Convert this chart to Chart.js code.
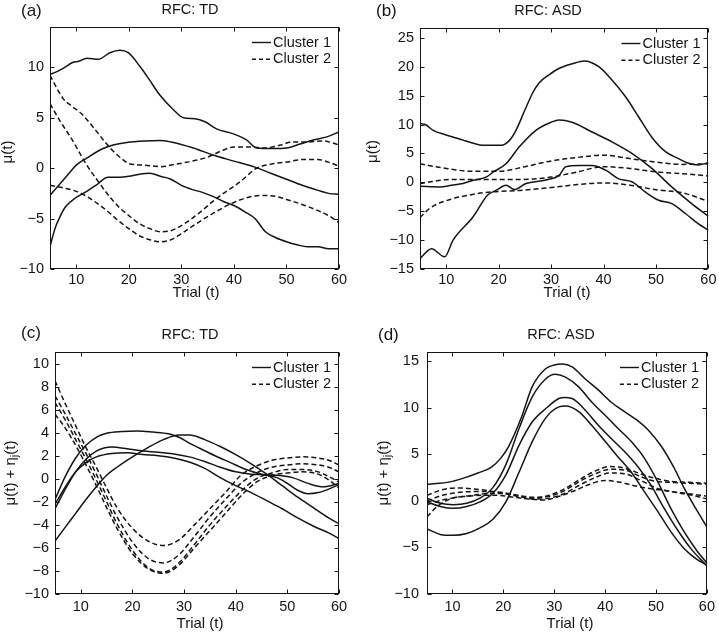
<!DOCTYPE html>
<html>
<head>
<meta charset="utf-8">
<script src="https://cdn.jsdelivr.net/npm/chart.js@4.4.1/dist/chart.umd.min.js"></script>
<style>
  body { margin: 0; background: #fff; width: 719px; height: 635px; overflow: hidden; }
  .panel { position: absolute; }
</style>
</head>
<body>
<div class="panel" style="left:0;top:0"><canvas id="chartA" width="360" height="317"></canvas></div>
<div class="panel" style="left:360px;top:0"><canvas id="chartB" width="359" height="317"></canvas></div>
<div class="panel" style="left:0;top:317px"><canvas id="chartC" width="360" height="318"></canvas></div>
<div class="panel" style="left:360px;top:317px"><canvas id="chartD" width="359" height="318"></canvas></div>
<script>
// ---- data (trial, value) ----
const xTicks = [10, 20, 30, 40, 50, 60];
const yTicksA = [-10, -5, 0, 5, 10];
const yTicksB = [-15, -10, -5, 0, 5, 10, 15, 20, 25];
const yTicksC = [-10, -8, -6, -4, -2, 0, 2, 4, 6, 8, 10];
const yTicksD = [-10, -5, 0, 5, 10, 15];
const legendLabels = ['Cluster 1', 'Cluster 2'];

// (a) RFC: TD, mean curves
const tdMeanC1a = [[5,9.3],[6,9.5],[7.5,9.9],[9.4,10.5],[10.5,10.6],[12,10.9],[14.2,10.8],[16.4,11.45],[18.3,11.7],[19.9,11.45],[22.1,10.1],[24,8.7],[25.9,7.25],[28.5,5.8],[30.4,5.0],[32.6,4.9],[34.5,4.6],[36.7,3.9],[39.9,3.4],[42.4,2.8],[44.3,2.0],[47.5,1.95],[50,2.0],[52.6,2.4],[55.1,2.8],[57.7,3.1],[60,3.6]];
const tdMeanC1b = [[5,-2.7],[7,-1.5],[8.8,-0.4],[10,0.3],[12,1.0],[15.1,1.95],[17,2.3],[19.6,2.55],[23,2.7],[25.9,2.75],[28,2.6],[32.3,2.0],[36,1.3],[40,0.7],[44,0.1],[47,-0.5],[50,-1.1],[53,-1.7],[56,-2.2],[58,-2.5],[60,-2.6]];
const tdMeanC1c = [[5,-7.8],[5.5,-6.8],[6,-5.9],[7,-4.7],[8,-3.8],[10,-2.9],[12,-2.3],[14,-1.6],[16,-0.9],[18,-0.9],[20,-0.8],[22,-0.6],[24,-0.5],[26,-0.8],[28,-1.1],[30,-1.7],[32,-2.1],[34,-2.4],[36,-2.8],[38,-3.3],[40,-3.7],[42,-4.3],[44,-5.0],[46,-6.3],[48,-6.9],[50,-7.3],[52,-7.6],[54,-7.8],[56,-7.8],[58,-8.0],[60,-8.0]];
const tdMeanC2a = [[5,9.2],[7.5,6.9],[9,6.2],[11,5.4],[13,4.2],[15,2.9],[17,1.7],[19,0.8],[20,0.45],[23,0.3],[26,0.15],[29,0.4],[32,0.7],[35,1.1],[38,1.8],[40,2.1],[43,2.1],[46,2.0],[49,2.3],[51,2.6],[54,2.6],[57,2.7],[60,2.3]];
const tdMeanC2b = [[5,6.4],[7,4.6],[9,3.0],[10,2.1],[12,0.3],[14,-1.2],[16,-2.6],[18,-3.8],[20,-4.7],[22,-5.5],[24,-6.0],[26,-6.3],[28,-6.2],[30,-5.7],[33,-4.6],[36,-3.3],[38,-2.5],[40,-1.8],[42,-1.0],[44,-0.1],[47,0.4],[50,0.6],[53,0.85],[56,0.85],[58,0.6],[60,0.2]];
const tdMeanC2c = [[5,-1.7],[7,-1.9],[10,-2.3],[12,-2.8],[14,-3.5],[16,-4.3],[18,-5.2],[20,-6.0],[22,-6.7],[24,-7.1],[26,-7.3],[28,-7.1],[30,-6.5],[32,-5.8],[35,-4.8],[38,-3.9],[40,-3.4],[42,-3.0],[45,-2.7],[48,-2.8],[50,-3.1],[53,-3.6],[55,-4.0],[58,-4.7],[60,-5.4]];

// (b) RFC: ASD, mean curves
const asdMeanC1a = [[5,10.2],[6,10.0],[7.5,9.0],[10,8.2],[13.2,7.3],[15,6.8],[17,6.4],[20.5,6.4],[22.1,7.3],[23.3,9.0],[25,12.5],[26.5,15.5],[27.7,17.2],[29.6,18.6],[31.5,19.7],[34,20.5],[36.3,21.0],[39.1,20.0],[41.6,17.7],[44.2,14.8],[46.7,11.3],[49.2,7.8],[51.8,5.3],[54.3,4.1],[56.2,3.3],[58,3.0],[60,3.4]];
const asdMeanC1b = [[5,-0.7],[8.8,-0.8],[11,-0.5],[13.2,-0.2],[15,0.3],[17.6,0.9],[19,1.8],[21.4,3.2],[23.9,6.1],[27.1,9.0],[30,10.4],[31.5,10.8],[34,10.4],[37.8,8.7],[41.6,7.0],[45.4,5.0],[49.2,2.4],[53,-0.8],[56.8,-3.7],[60,-5.9]];
const asdMeanC1c = [[5,-13.2],[7.2,-11.5],[9.7,-12.9],[11.3,-10.0],[15.1,-6.0],[17.9,-2.2],[19.5,-1.4],[21.4,-0.5],[23,-1.25],[25.2,-0.2],[29,0.4],[31.5,1.2],[32.8,2.7],[35.3,2.9],[37.8,2.9],[40.4,2.1],[42.9,0.6],[45.4,0.1],[48,-1.7],[50.5,-3.1],[53,-3.7],[55.6,-5.4],[58.1,-7.2],[60,-8.3]];
const asdMeanC2a = [[5,3.2],[10,2.4],[15,1.9],[20,1.9],[25,2.7],[30,3.7],[35,4.3],[40,4.7],[45,4.1],[50,3.5],[55,3.1],[60,3.2]];
const asdMeanC2b = [[5,-0.2],[11,0.5],[17.6,0.5],[24,0.5],[30,0.9],[35,1.8],[40,2.7],[45,2.4],[50,1.8],[55,1.5],[60,1.1]];
const asdMeanC2c = [[5,-6.1],[7,-4.4],[11,-2.9],[15,-2.1],[18,-1.7],[24,-1.4],[30,-0.9],[35,-0.4],[40,-0.1],[45,-0.5],[50,-1.3],[55,-1.8],[60,-3.3]];

// (c) RFC: TD, mean + subject deviation
const tdFitC1a = [[5,-1.8],[7,0.2],[9,1.8],[11,2.9],[13,3.6],[15,3.95],[18,4.1],[21,4.15],[24,4.05],[27,3.9],[29,3.6],[31,3.1],[33,2.65],[36,2.0],[39,1.4],[42,0.8],[45,0.4],[48,0.3],[51,0.1],[54,-0.4],[57,-0.7],[60,-0.4]];
const tdFitC1b = [[5,-5.4],[7,-4.2],[9,-3.0],[11,-1.8],[13,-0.7],[15,0.3],[17,1.0],[20,1.9],[23,2.7],[26,3.4],[29,3.8],[31,3.8],[34,3.4],[37,2.8],[40,2.1],[43,1.3],[46,0.4],[49,-0.6],[52,-1.6],[55,-2.5],[58,-3.4],[60,-3.9]];
const tdFitC1c = [[5,-2.6],[7,-0.9],[9,0.6],[11,1.7],[13,2.4],[16,2.75],[19,2.6],[22,2.4],[25,2.3],[28,2.15],[31,1.9],[34,1.5],[37,1.0],[40,0.6],[43,0.4],[46,0.3],[48,0.1],[50,-0.4],[52,-1.0],[54,-1.3],[56,-1.2],[58,-0.9],[60,-0.5]];
const tdFitC1d = [[5,-2.2],[7,-0.7],[9,0.6],[11,1.4],[13,1.9],[16,2.2],[19,2.25],[22,2.1],[25,2.0],[28,1.8],[31,1.45],[34,0.9],[37,0.1],[40,-0.6],[43,-1.2],[46,-1.9],[49,-2.6],[52,-3.4],[55,-4.1],[58,-4.7],[60,-5.2]];
const tdFitC2a = [[5,8.5],[7,6.5],[9,4.6],[11,2.7],[13,1.0],[15,-0.8],[17,-2.5],[20,-4.3],[23,-5.4],[26,-5.8],[29,-5.3],[32,-4.0],[35,-2.6],[38,-1.2],[41,0.3],[44,1.1],[47,1.6],[50,1.8],[53,1.9],[56,1.8],[58,1.6],[60,1.2]];
const tdFitC2b = [[5,7.2],[7,5.6],[9,3.9],[11,2.2],[13,0.4],[15,-1.5],[17,-3.3],[20,-5.5],[23,-6.9],[26,-7.3],[29,-6.6],[32,-5.0],[35,-3.3],[38,-1.8],[41,-0.4],[44,0.5],[47,1.0],[50,1.2],[53,1.3],[56,1.2],[58,1.0],[60,0.6]];
const tdFitC2c = [[5,6.6],[7,5.1],[9,3.4],[11,1.7],[13,-0.1],[15,-2.0],[17,-3.9],[20,-6.2],[23,-7.7],[26,-8.1],[29,-7.3],[32,-5.7],[35,-4.0],[38,-2.5],[41,-1.1],[44,0.0],[47,0.5],[50,0.8],[53,0.8],[56,0.6],[58,0.2],[60,-0.3]];
const tdFitC2d = [[5,5.6],[7,4.4],[9,2.9],[11,1.2],[13,-0.6],[15,-2.5],[17,-4.3],[20,-6.5],[23,-7.8],[26,-8.2],[29,-7.5],[32,-6.0],[35,-4.5],[38,-3.0],[41,-1.5],[44,-0.3],[47,0.3],[50,0.5],[53,0.6],[56,0.4],[58,-0.1],[60,-0.8]];

// (d) RFC: ASD, mean + subject deviation
const asdFitC1a = [[5,1.8],[7.5,1.9],[10,2.1],[12.5,2.5],[15,3.0],[17.6,3.6],[19.5,4.6],[21,5.8],[23.5,8.9],[25.7,12.3],[28.3,14.2],[30,14.6],[31.6,14.7],[33.5,14.4],[36.1,13.1],[38.7,11.9],[41.2,10.6],[43.8,9.6],[46.2,8.7],[48.5,7.6],[51,5.9],[53.5,3.6],[55.5,1.4],[57.8,-0.8],[60,-2.8]];
const asdFitC1b = [[5,0.3],[7.6,-0.25],[10.2,-0.4],[12.8,-0.25],[15.4,0.3],[17.9,1.4],[20.5,3.9],[23.1,7.8],[25.7,11.2],[28.3,13.1],[30.2,13.6],[32.2,13.3],[34.8,12.25],[37.4,10.6],[40,9.2],[42.5,7.8],[45.1,6.4],[47.7,4.6],[50.3,2.1],[52.9,-0.8],[55.5,-3.3],[58.1,-5.4],[60,-6.7]];
const asdFitC1c = [[5,-0.1],[7.6,-0.6],[10.2,-0.8],[12.8,-0.6],[15.4,-0.1],[17.9,0.8],[20.5,2.8],[23.1,6.0],[25.7,8.5],[28.3,9.9],[30.9,11.0],[32,11.1],[33.5,11.0],[36.1,9.75],[38.7,8.1],[41.2,6.7],[43.8,5.3],[46.4,3.7],[49,1.7],[51.6,-0.8],[54.2,-3.1],[56.8,-5.1],[60,-7.0]];
const asdFitC1d = [[5,-3.0],[7.6,-3.6],[10.2,-3.7],[12.8,-3.5],[15.4,-2.9],[17.9,-2.0],[20.5,-0.1],[23.1,3.1],[25.7,6.4],[28.3,8.9],[30.9,10.1],[32.2,10.2],[34.8,9.6],[37.4,8.1],[40,6.4],[42.5,4.75],[45.1,3.1],[47.7,1.0],[50.3,-1.1],[52.9,-3.3],[55.5,-5.1],[58.1,-6.3],[60,-6.9]];
const asdFitC2a = [[5,0.6],[8,1.2],[11,1.4],[14,1.3],[17,1.1],[20,0.8],[23,0.5],[26,0.3],[29,0.6],[32,1.3],[35,2.3],[38,3.2],[41,3.7],[44,3.5],[47,2.9],[50,2.4],[53,2.1],[56,2.0],[60,1.9]];
const asdFitC2b = [[5,0.0],[8,0.6],[11,0.9],[14,1.0],[17,1.0],[20,0.9],[23,0.6],[26,0.4],[29,0.5],[32,1.1],[35,2.1],[38,2.9],[41,3.4],[44,3.3],[47,2.6],[50,2.1],[53,2.0],[56,1.9],[60,1.8]];
const asdFitC2c = [[5,-0.4],[8,0.1],[11,0.4],[14,0.6],[17,0.8],[20,0.8],[23,0.5],[26,0.2],[29,0.3],[32,0.8],[35,1.7],[38,2.5],[41,3.0],[44,2.9],[47,2.2],[50,1.4],[53,1.0],[56,0.8],[60,0.5]];
const asdFitC2d = [[5,-1.7],[7,-0.6],[10,0.3],[13,0.5],[16,0.6],[19,0.6],[22,0.4],[25,0.2],[28,0.1],[31,0.5],[34,1.1],[37,1.8],[40,2.2],[43,2.0],[46,1.6],[49,1.3],[52,1.1],[55,0.8],[58,0.5],[60,0.2]];

// ---- drawing ----
const FONT = "'Liberation Sans', Arial, Helvetica, sans-serif";
const INK = '#151515';
const DASH = [5, 3];

function toXY(pts) {
    return pts.map(function (p) { return { x: p[0], y: p[1] }; });
}

// MATLAB style minus sign
function fmtTick(v) {
    return v < 0 ? '\u2212' + Math.abs(v) : String(v);
}

function series(list, dashed) {
    return list.map(function (pts) {
        return {
            data: toXY(pts),
            borderColor: INK,
            borderWidth: 1.5,
            borderDash: dashed ? DASH : [],
            pointRadius: 0,
            fill: false,
            cubicInterpolationMode: 'monotone'
        };
    });
}

// frame, inward ticks, legend and all the titles
const panelDecor = {
    id: 'panelDecor',
    afterDraw(chart, args, o) {
        const ctx = chart.ctx;
        const a = chart.chartArea;
        const xs = chart.scales.x, ys = chart.scales.y;
        ctx.save();
        ctx.strokeStyle = INK;
        ctx.fillStyle = INK;
        ctx.lineWidth = 1;
        const L = Math.round(a.left) + 0.5, T = Math.round(a.top) + 0.5;
        const R = Math.round(a.right) - 0.5, B = Math.round(a.bottom) - 0.5;
        ctx.strokeRect(L, T, R - L, B - T);

        ctx.beginPath();
        xs.ticks.forEach(function (t) {
            const px = Math.round(xs.getPixelForValue(t.value)) + 0.5;
            ctx.moveTo(px, B); ctx.lineTo(px, B - 4);
            ctx.moveTo(px, T); ctx.lineTo(px, T + 4);
        });
        ys.ticks.forEach(function (t) {
            const py = Math.round(ys.getPixelForValue(t.value)) + 0.5;
            ctx.moveTo(L, py); ctx.lineTo(L + 4, py);
            ctx.moveTo(R, py); ctx.lineTo(R - 4, py);
        });
        ctx.stroke();

        // legend, top right inside the axes
        ctx.font = '14.5px ' + FONT;
        ctx.textBaseline = 'middle';
        ctx.textAlign = 'left';
        const lx = a.right - 87;
        legendLabels.forEach(function (lab, i) {
            const ly = a.top + 15.5 + i * 16.8;
            ctx.lineWidth = 1.4;
            ctx.setLineDash(i === 0 ? [] : [4, 3]);
            ctx.beginPath();
            ctx.moveTo(lx, ly); ctx.lineTo(lx + 19, ly);
            ctx.stroke();
            ctx.setLineDash([]);
            ctx.fillText(lab, lx + 21, ly);
        });

        // panel letter and title
        ctx.font = '17px ' + FONT;
        ctx.fillText(o.letter, o.letterX, o.letterY);
        ctx.font = '14.5px ' + FONT;
        ctx.textAlign = 'center';
        ctx.fillText(o.title, o.titleX, o.titleY);

        // x title
        ctx.font = '15px ' + FONT;
        ctx.fillText('Trial (t)', o.xTitleX, o.xTitleY);

        // y title (rotated, with optional subscript)
        ctx.translate(o.yTitleX, (a.top + a.bottom) / 2 + o.yTitleShift);
        ctx.rotate(-Math.PI / 2);
        const big = '15px ' + FONT, small = '11px ' + FONT;
        let w = 0;
        o.yTitle.forEach(function (p) {
            ctx.font = p[1] ? small : big;
            w += ctx.measureText(p[0]).width;
        });
        let cx = -w / 2;
        ctx.textAlign = 'left';
        o.yTitle.forEach(function (p) {
            ctx.font = p[1] ? small : big;
            ctx.fillText(p[0], cx, p[1] ? 4 : 0);
            cx += ctx.measureText(p[0]).width;
        });
        ctx.restore();
    }
};

function makeChart(id, p) {
    return new Chart(document.getElementById(id), {
        type: 'line',
        data: { datasets: series(p.solid, false).concat(series(p.dashed, true)) },
        options: {
            responsive: false,
            animation: false,
            layout: { padding: { left: 0, right: p.padRight, top: p.padTop, bottom: 0 } },
            plugins: {
                legend: { display: false },
                tooltip: { enabled: false },
                panelDecor: p.decor
            },
            scales: {
                x: {
                    type: 'linear',
                    min: 5,
                    max: 60,
                    grid: { display: false, drawTicks: false },
                    border: { display: false },
                    ticks: { color: INK, font: { family: FONT, size: 14.5 }, padding: p.xTickPad, maxRotation: 0, callback: fmtTick },
                    afterBuildTicks: function (s) { s.ticks = xTicks.map(function (v) { return { value: v }; }); },
                    afterFit: function (s) { s.height = p.xHeight; }
                },
                y: {
                    type: 'linear',
                    min: p.yMin,
                    max: p.yMax,
                    grid: { display: false, drawTicks: false },
                    border: { display: false },
                    ticks: { color: INK, font: { family: FONT, size: 14.5 }, padding: p.yTickPad, callback: fmtTick },
                    afterBuildTicks: function (s) { s.ticks = p.yTicks.map(function (v) { return { value: v }; }); },
                    afterFit: function (s) { s.width = p.yWidth; }
                }
            }
        },
        plugins: [panelDecor]
    });
}

const muLabel = [['\u03bc(t)', false]];
const muEtaLabel = [['\u03bc(t) + \u03b7', false], ['j', true], ['(t)', false]];

makeChart('chartA', {
    solid: [tdMeanC1a, tdMeanC1b, tdMeanC1c],
    dashed: [tdMeanC2a, tdMeanC2b, tdMeanC2c],
    yMin: -10, yMax: 14, yTicks: yTicksA,
    padRight: 21, padTop: 27, yWidth: 50, xHeight: 48, xTickPad: 2.5, yTickPad: 6,
    decor: { letter: '(a)', letterX: 21, letterY: 11, title: 'RFC: TD', titleX: 190, titleY: 10,
             xTitleX: 196, xTitleY: 293, yTitleX: 8, yTitleShift: 4, yTitle: muLabel }
});
makeChart('chartB', {
    solid: [asdMeanC1a, asdMeanC1b, asdMeanC1c],
    dashed: [asdMeanC2a, asdMeanC2b, asdMeanC2c],
    yMin: -15, yMax: 26.7, yTicks: yTicksB,
    padRight: 9, padTop: 28, yWidth: 60, xHeight: 48, xTickPad: 2.5, yTickPad: 6,
    decor: { letter: '(b)', letterX: 16, letterY: 11, title: 'RFC: ASD', titleX: 188, titleY: 11,
             xTitleX: 207, xTitleY: 293, yTitleX: 13, yTitleShift: 3, yTitle: muLabel }
});
makeChart('chartC', {
    solid: [tdFitC1a, tdFitC1b, tdFitC1c, tdFitC1d],
    dashed: [tdFitC2a, tdFitC2b, tdFitC2c, tdFitC2d],
    yMin: -10, yMax: 11, yTicks: yTicksC,
    padRight: 21, padTop: 35, yWidth: 55, xHeight: 41, xTickPad: 4, yTickPad: 6,
    decor: { letter: '(c)', letterX: 21, letterY: 16, title: 'RFC: TD', titleX: 190, titleY: 17.5,
             xTitleX: 200, xTitleY: 307, yTitleX: 11, yTitleShift: 0, yTitle: muEtaLabel }
});
makeChart('chartD', {
    solid: [asdFitC1a, asdFitC1b, asdFitC1c, asdFitC1d],
    dashed: [asdFitC2a, asdFitC2b, asdFitC2c, asdFitC2d],
    yMin: -10, yMax: 16, yTicks: yTicksD,
    padRight: 9, padTop: 35, yWidth: 67, xHeight: 41, xTickPad: 4, yTickPad: 8,
    decor: { letter: '(d)', letterX: 18, letterY: 18.5, title: 'RFC: ASD', titleX: 201, titleY: 17.5,
             xTitleX: 210, xTitleY: 307, yTitleX: 24, yTitleShift: 0, yTitle: muEtaLabel }
});
</script>
</body>
</html>
